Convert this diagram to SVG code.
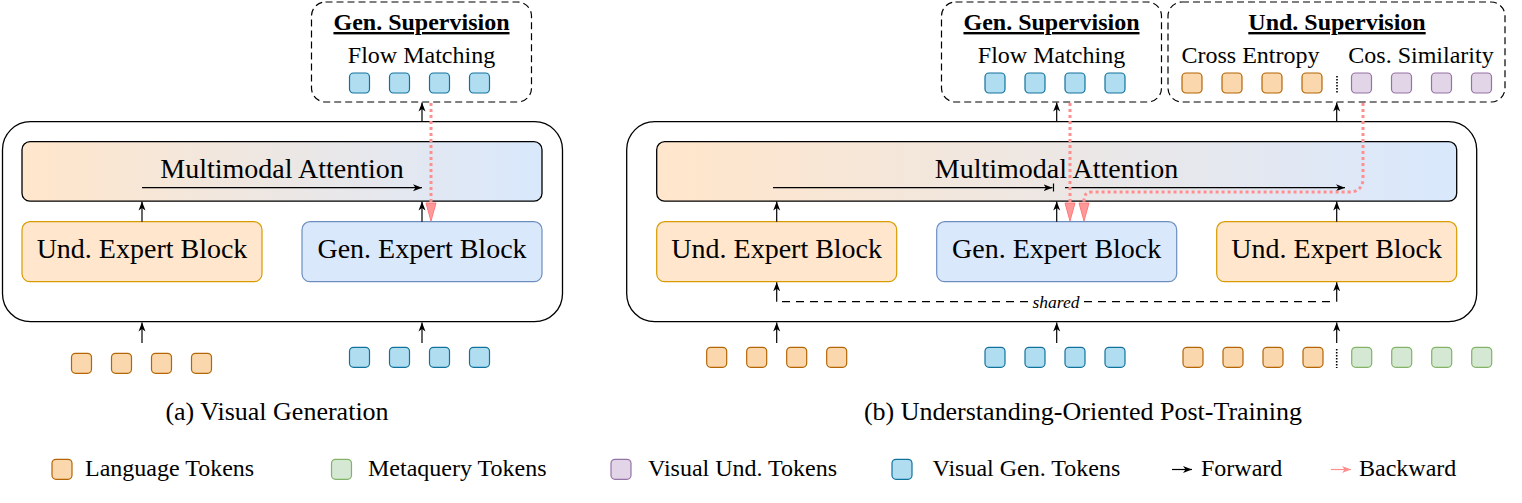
<svg xmlns="http://www.w3.org/2000/svg" width="1522" height="503" viewBox="0 0 1522 503">
<defs>
  <linearGradient id="attn" x1="0" x2="1" y1="0" y2="0">
    <stop offset="0.03" stop-color="#FFE6CC"/>
    <stop offset="0.97" stop-color="#DAE8FC"/>
  </linearGradient>
  <marker id="arr" markerUnits="userSpaceOnUse" markerWidth="12" markerHeight="10" refX="9" refY="4" orient="auto">
    <path d="M0,0.5 L9,4 L0,7.5 L2.5,4 z" fill="#000"/>
  </marker>
  <marker id="arrp" markerUnits="userSpaceOnUse" markerWidth="12" markerHeight="10" refX="9" refY="4" orient="auto">
    <path d="M0,0.5 L9,4 L0,7.5 L2.5,4 z" fill="#FF8F8F"/>
  </marker>
</defs>
<style>
  text { font-family: "Liberation Serif", "Times New Roman", serif; fill: #000; }
  .big { font-size: 28px; }
  .sup { font-size: 24px; }
  .title { font-size: 24px; font-weight: bold; text-decoration: underline; }
  .cap { font-size: 26px; }
  .leg { font-size: 24px; }
  .shared { font-size: 17.5px; font-style: italic; }
  .outer { fill: #fff; stroke: #000; stroke-width: 1.3; }
  .attn { fill: url(#attn); stroke: #000; stroke-width: 1.3; }
  .und { fill: #FFE6CC; stroke: #D79B00; stroke-width: 1.2; }
  .gen { fill: #DAE8FC; stroke: #6C8EBF; stroke-width: 1.2; }
  .supbox { fill: none; stroke: #000; stroke-width: 1.2; stroke-dasharray: 7 4; }
  .tl { fill: #FAD7AC; stroke: #B46504; stroke-width: 1.2; }
  .tb { fill: #B1DDF0; stroke: #10739E; stroke-width: 1.2; }
  .tg { fill: #D5E8D4; stroke: #82B366; stroke-width: 1.2; }
  .tp { fill: #E1D5E7; stroke: #9673A6; stroke-width: 1.2; }
  .fw { stroke: #000; stroke-width: 1.2; fill: none; marker-end: url(#arr); }
  .dash { stroke: #000; stroke-width: 1.2; fill: none; stroke-dasharray: 8 6; }
  .bw { stroke: #FF8F8F; stroke-width: 3; stroke-dasharray: 3 3; fill: none; }
  .bwh { fill: #FF8F8F; stroke: #FF6B6B; stroke-width: 1; opacity: 0.9; }
  .dots { stroke: #000; stroke-width: 1.6; stroke-dasharray: 1.5 1.5; }
  .bar { stroke: #000; stroke-width: 1.2; }
</style>

<!-- ===== Panel (a) ===== -->
<g id="a-outer"><rect class="outer" x="2.5" y="121.7" width="560" height="200" rx="28"/></g>
<g id="a-attention">
  <rect class="attn" x="22" y="141.7" width="520" height="59.5" rx="8"/>
  <text class="big" x="282" y="178" text-anchor="middle">Multimodal Attention</text>
</g>
<g id="a-und-block">
  <rect class="und" x="22" y="221.7" width="240" height="60" rx="8"/>
  <text class="big" x="142" y="258" text-anchor="middle">Und. Expert Block</text>
</g>
<g id="a-gen-block">
  <rect class="gen" x="302" y="221.7" width="240" height="60" rx="8"/>
  <text class="big" x="422" y="258" text-anchor="middle">Gen. Expert Block</text>
</g>
<g id="a-gen-sup">
  <rect class="supbox" x="311.5" y="2" width="220" height="100" rx="14"/>
  <text class="title" x="421.5" y="30" text-anchor="middle">Gen. Supervision</text>
  <text class="sup" x="421.5" y="62.5" text-anchor="middle">Flow Matching</text>
  <rect class="tb" x="349.5" y="73" width="20" height="20" rx="4"/>
  <rect class="tb" x="389.5" y="73" width="20" height="20" rx="4"/>
  <rect class="tb" x="429.5" y="73" width="20" height="20" rx="4"/>
  <rect class="tb" x="469.5" y="73" width="20" height="20" rx="4"/>
</g>
<g id="a-input-lang">
  <rect class="tl" x="71.5" y="353.3" width="20" height="20" rx="4"/>
  <rect class="tl" x="111.5" y="353.3" width="20" height="20" rx="4"/>
  <rect class="tl" x="151.5" y="353.3" width="20" height="20" rx="4"/>
  <rect class="tl" x="191.5" y="353.3" width="20" height="20" rx="4"/>
</g>
<g id="a-input-gen">
  <rect class="tb" x="349.5" y="347.3" width="20" height="20" rx="4"/>
  <rect class="tb" x="389.5" y="347.3" width="20" height="20" rx="4"/>
  <rect class="tb" x="429.5" y="347.3" width="20" height="20" rx="4"/>
  <rect class="tb" x="469.5" y="347.3" width="20" height="20" rx="4"/>
</g>
<g id="a-caption"><text class="cap" x="277" y="420" text-anchor="middle">(a) Visual Generation</text></g>

<!-- ===== Panel (b) ===== -->
<g id="b-outer"><rect class="outer" x="626.7" y="121.7" width="850" height="200" rx="28"/></g>
<g id="b-attention">
  <rect class="attn" x="656.7" y="141.7" width="800" height="59.5" rx="8"/>
  <text class="big" x="1056.5" y="178" text-anchor="middle">Multimodal Attention</text>
</g>
<g id="b-und-block-1">
  <rect class="und" x="656.7" y="221.7" width="240" height="60" rx="8"/>
  <text class="big" x="776.7" y="258" text-anchor="middle">Und. Expert Block</text>
</g>
<g id="b-gen-block">
  <rect class="gen" x="936.7" y="221.7" width="240" height="60" rx="8"/>
  <text class="big" x="1056.7" y="258" text-anchor="middle">Gen. Expert Block</text>
</g>
<g id="b-und-block-2">
  <rect class="und" x="1216.7" y="221.7" width="240" height="60" rx="8"/>
  <text class="big" x="1336.7" y="258" text-anchor="middle">Und. Expert Block</text>
</g>
<g id="b-gen-sup">
  <rect class="supbox" x="941.5" y="2" width="220" height="100" rx="14"/>
  <text class="title" x="1051.5" y="30" text-anchor="middle">Gen. Supervision</text>
  <text class="sup" x="1051.5" y="62.5" text-anchor="middle">Flow Matching</text>
  <rect class="tb" x="985" y="73" width="20" height="20" rx="4"/>
  <rect class="tb" x="1025" y="73" width="20" height="20" rx="4"/>
  <rect class="tb" x="1065" y="73" width="20" height="20" rx="4"/>
  <rect class="tb" x="1105" y="73" width="20" height="20" rx="4"/>
</g>
<g id="b-und-sup">
  <rect class="supbox" x="1168" y="2" width="337" height="100" rx="14"/>
  <text class="title" x="1337" y="30" text-anchor="middle">Und. Supervision</text>
  <text class="sup" x="1250.5" y="62.5" text-anchor="middle">Cross Entropy</text>
  <text class="sup" x="1421" y="62.5" text-anchor="middle">Cos. Similarity</text>
  <rect class="tl" x="1182" y="73" width="20" height="20" rx="4"/>
  <rect class="tl" x="1222" y="73" width="20" height="20" rx="4"/>
  <rect class="tl" x="1262" y="73" width="20" height="20" rx="4"/>
  <rect class="tl" x="1302" y="73" width="20" height="20" rx="4"/>
  <line class="dots" x1="1337" y1="76" x2="1337" y2="94"/>
  <rect class="tp" x="1351.5" y="73" width="20" height="20" rx="4"/>
  <rect class="tp" x="1391.5" y="73" width="20" height="20" rx="4"/>
  <rect class="tp" x="1431.5" y="73" width="20" height="20" rx="4"/>
  <rect class="tp" x="1471.5" y="73" width="20" height="20" rx="4"/>
</g>
<g id="b-input-lang">
  <rect class="tl" x="706.7" y="347.3" width="20" height="20" rx="4"/>
  <rect class="tl" x="746.7" y="347.3" width="20" height="20" rx="4"/>
  <rect class="tl" x="786.7" y="347.3" width="20" height="20" rx="4"/>
  <rect class="tl" x="826.7" y="347.3" width="20" height="20" rx="4"/>
</g>
<g id="b-input-gen">
  <rect class="tb" x="985" y="347.3" width="20" height="20" rx="4"/>
  <rect class="tb" x="1025" y="347.3" width="20" height="20" rx="4"/>
  <rect class="tb" x="1065" y="347.3" width="20" height="20" rx="4"/>
  <rect class="tb" x="1105" y="347.3" width="20" height="20" rx="4"/>
</g>
<g id="b-input-und">
  <rect class="tl" x="1183" y="347.3" width="20" height="20" rx="4"/>
  <rect class="tl" x="1223" y="347.3" width="20" height="20" rx="4"/>
  <rect class="tl" x="1263" y="347.3" width="20" height="20" rx="4"/>
  <rect class="tl" x="1303" y="347.3" width="20" height="20" rx="4"/>
  <line class="dots" x1="1336.7" y1="349" x2="1336.7" y2="368"/>
  <rect class="tg" x="1351.7" y="347.3" width="20" height="20" rx="4"/>
  <rect class="tg" x="1391.7" y="347.3" width="20" height="20" rx="4"/>
  <rect class="tg" x="1431.7" y="347.3" width="20" height="20" rx="4"/>
  <rect class="tg" x="1471.7" y="347.3" width="20" height="20" rx="4"/>
</g>
<g id="b-caption"><text class="cap" x="1083" y="420" text-anchor="middle">(b) Understanding-Oriented Post-Training</text></g>

<!-- ===== Connectors ===== -->
<g id="connectors">
  <line class="fw" x1="142" y1="343" x2="142" y2="322.5"/>
  <line class="fw" x1="422" y1="343" x2="422" y2="322.5"/>
  <line class="fw" x1="142" y1="221.7" x2="142" y2="201.5"/>
  <line class="fw" x1="422" y1="221.7" x2="422" y2="201.5"/>
  <line class="fw" x1="142" y1="187.7" x2="422" y2="187.7"/>
  <line class="fw" x1="422" y1="121.7" x2="422" y2="102.5"/>
  <line class="bw" x1="431" y1="103" x2="431" y2="203"/>
  <polygon class="bwh" points="426,203 436,203 431,221"/>

  <line class="fw" x1="776.7" y1="343" x2="776.7" y2="322.5"/>
  <line class="fw" x1="1056.7" y1="343" x2="1056.7" y2="322.5"/>
  <line class="fw" x1="1336.7" y1="343" x2="1336.7" y2="322.5"/>
  <line class="fw" x1="776.7" y1="301.7" x2="776.7" y2="282.3"/>
  <line class="fw" x1="1336.7" y1="301.7" x2="1336.7" y2="282.3"/>
  <line class="dash" x1="782" y1="301.7" x2="1030" y2="301.7"/>
  <line class="dash" x1="1084" y1="301.7" x2="1336" y2="301.7"/>
  <text class="shared" x="1056" y="308.3" text-anchor="middle">shared</text>
  <line class="fw" x1="776.7" y1="221.7" x2="776.7" y2="201.5"/>
  <line class="fw" x1="1056.7" y1="221.7" x2="1056.7" y2="201.5"/>
  <line class="fw" x1="1336.7" y1="221.7" x2="1336.7" y2="201.5"/>
  <line class="fw" x1="773" y1="187.7" x2="1052.5" y2="187.7"/>
  <line class="bar" x1="1053.5" y1="183.5" x2="1053.5" y2="191.5"/>
  <line class="fw" x1="1065" y1="187.7" x2="1345" y2="187.7"/>
  <line class="fw" x1="1056.7" y1="121.7" x2="1056.7" y2="102.5"/>
  <line class="fw" x1="1336.7" y1="121.7" x2="1336.7" y2="102.5"/>
  <line class="bw" x1="1070" y1="103" x2="1070" y2="203"/>
  <polygon class="bwh" points="1065,203 1075,203 1070,221"/>
  <path class="bw" d="M1363,103 V178 Q1363,192 1349,192 H1092 Q1084,192 1084,200 V203"/>
  <polygon class="bwh" points="1079,203 1089,203 1084,221"/>
</g>

<!-- ===== Legend ===== -->
<g id="legend">
  <rect class="tl" x="52" y="459.3" width="20" height="20" rx="4"/>
  <text class="leg" x="85" y="475.7">Language Tokens</text>
  <rect class="tg" x="331.5" y="459.3" width="20" height="20" rx="4"/>
  <text class="leg" x="368" y="475.7">Metaquery Tokens</text>
  <rect class="tp" x="611" y="459.3" width="20" height="20" rx="4"/>
  <text class="leg" x="648" y="475.7">Visual Und. Tokens</text>
  <rect class="tb" x="892" y="459.3" width="20" height="20" rx="4"/>
  <text class="leg" x="932.5" y="475.7">Visual Gen. Tokens</text>
  <line class="fw" x1="1172" y1="469.5" x2="1192" y2="469.5"/>
  <text class="leg" x="1201" y="475.7">Forward</text>
  <line x1="1331" y1="469.5" x2="1351" y2="469.5" stroke="#FF8F8F" stroke-width="1.2" marker-end="url(#arrp)"/>
  <text class="leg" x="1359" y="475.7">Backward</text>
</g>
</svg>
